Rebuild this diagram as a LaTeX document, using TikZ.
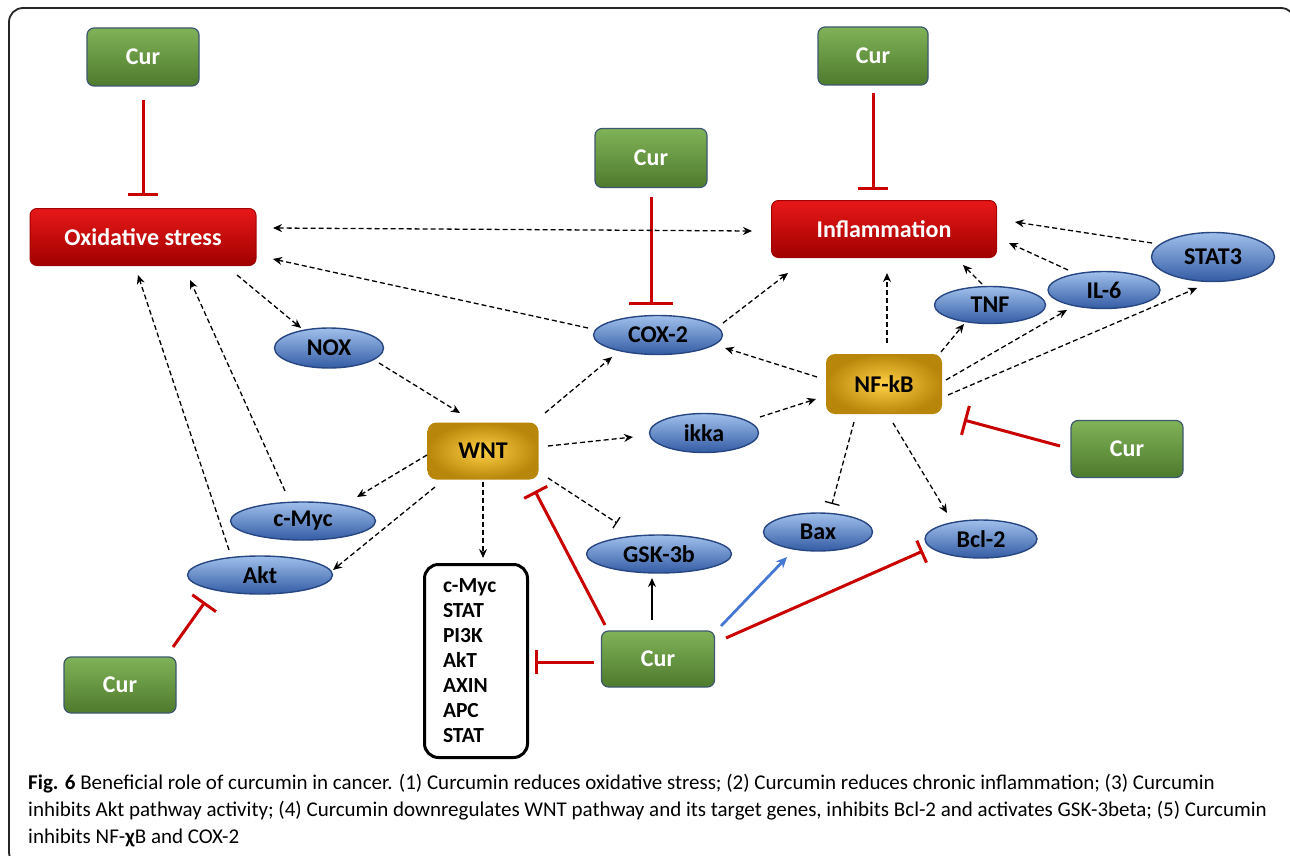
\documentclass[tikz,border=0pt]{standalone}
\usepackage{fontspec}
\setmainfont{Carlito}
\usetikzlibrary{arrows.meta,shapes.geometric}
\definecolor{curtop}{RGB}{128,178,88}
\definecolor{curbot}{RGB}{78,122,44}
\definecolor{curedge}{RGB}{62,88,112}
\definecolor{redtop}{RGB}{232,24,24}
\definecolor{redmid}{RGB}{206,0,0}
\definecolor{redbot}{RGB}{160,0,0}
\definecolor{goldin}{RGB}{255,208,70}
\definecolor{goldout}{RGB}{184,134,10}
\definecolor{bltop}{RGB}{160,192,235}
\definecolor{blmid}{RGB}{88,138,210}
\definecolor{blbot}{RGB}{52,92,165}
\definecolor{bledge}{RGB}{40,70,130}
\definecolor{inhred}{RGB}{200,0,0}
\definecolor{actblue}{RGB}{70,120,210}
\newcommand\nodefont{\fontsize{24}{28}\selectfont\bfseries}
\begin{document}
\begin{tikzpicture}[x=1pt,y=-1pt,
  curbox/.style={rectangle,rounded corners=7pt,draw=curedge,line width=1.2pt,
    top color=curtop,bottom color=curbot,text=white,font=\nodefont,
    minimum width=112pt,minimum height=58pt,inner sep=0pt},
  redbox/.style={rectangle,rounded corners=7pt,draw=redbot,line width=1pt,
    top color=redtop,middle color=redmid,bottom color=redbot,text=white,font=\nodefont,
    minimum height=57pt,inner sep=0pt},
  goldbox/.style={rectangle,rounded corners=9pt,inner color=goldin,outer color=goldout,
    text=black,font=\nodefont,minimum height=59pt,inner sep=0pt},
  blueell/.style={ellipse,draw=bledge,line width=1.4pt,top color=bltop,middle color=blmid,
    bottom color=blbot,text=black,font=\nodefont,inner sep=0pt},
  genebox/.style={rectangle,rounded corners=14pt,draw=black,line width=3pt,fill=white,
    minimum width=103pt,minimum height=193pt,inner sep=0pt,text width=66pt,align=left,
    font=\fontsize{21.5}{25}\selectfont\bfseries},
  da/.style={line width=1.3pt,dash pattern=on 5pt off 3pt,-{Stealth[length=9pt,width=8pt]}},
  dda/.style={line width=1.3pt,dash pattern=on 5pt off 3pt,{Stealth[length=9pt,width=8pt]}-{Stealth[length=9pt,width=8pt]}},
  inh/.style={draw=inhred,line width=3pt,-{Bar[width=#1]}},
  inh/.default=30pt,
  dinh/.style={line width=1.3pt,dash pattern=on 5pt off 3pt,-{Bar[width=#1]}},
  dinh/.default=13pt,
  frame/.style={draw=black!85,line width=1.8pt,rounded corners=14pt}
]
\useasboundingbox (0,0) rectangle (1290,856);
\begin{scope}
  \clip (0,0) rectangle (1290,856);
  \draw[frame] (9,8) rectangle (1295,866);
\end{scope}

% nodes
\node[curbox] (cur1) at (143,57) {Cur};
\node[redbox,minimum width=226pt] (ox) at (143,237) {Oxidative stress};
\node[curbox,minimum width=110pt] (cur2) at (873,56) {Cur};
\node[redbox,minimum width=225pt] (infl) at (884,229) {Inflammation};
\node[curbox,minimum height=59pt] (cur3) at (651,158) {Cur};
\node[blueell,minimum width=129pt,minimum height=39pt] (cox) at (658,335) {COX-2};
\node[goldbox,minimum width=116pt,minimum height=60pt] (nfkb) at (884,384) {NF-kB};
\node[blueell,minimum width=111pt,minimum height=37pt] (tnf) at (990,305) {TNF};
\node[blueell,minimum width=112pt,minimum height=37pt] (il6) at (1104,290) {IL-6};
\node[blueell,minimum width=123pt,minimum height=49pt] (stat3) at (1213,257) {STAT3};
\node[curbox,minimum height=57pt] (cur4) at (1127,449) {Cur};
\node[blueell,minimum width=109pt,minimum height=39pt] (ikka) at (704,433) {ikka};
\node[goldbox,minimum width=111pt,minimum height=57pt] (wnt) at (483,451) {WNT};
\node[blueell,minimum width=109pt,minimum height=40pt] (nox) at (329,348) {NOX};
\node[blueell,minimum width=145pt,minimum height=38pt] (cmyc) at (303,521) {c-Myc};
\node[blueell,minimum width=145pt,minimum height=38pt] (akt) at (260,575) {Akt};
\node[genebox] (genes) at (476,661) {c-Myc\\STAT\\PI3K\\AkT\\AXIN\\APC\\STAT};
\node[blueell,minimum width=145pt,minimum height=38pt] (gsk) at (659,554) {GSK-3b};
\node[curbox,minimum width=113pt,minimum height=56pt] (cur5) at (658,659) {Cur};
\node[blueell,minimum width=109pt,minimum height=38pt] (bax) at (818,532) {Bax};
\node[blueell,minimum width=112pt,minimum height=38pt] (bcl2) at (981,539) {Bcl-2};
\node[curbox,minimum height=56pt] (cur6) at (120,685) {Cur};

% inhibitions by curcumin
\draw[inh] ([shift={(0,43)}]cur1.center) -- ([shift={(0,-41)}]ox.center);
\draw[inh] ([shift={(0,37)}]cur2.center) -- ([shift={(-11,-39)}]infl.center);
\draw[inh=44pt] ([shift={(0,39)}]cur3.center) -- ([shift={(-7,-30)}]cox.center);
\draw[inh] ([shift={(-67,-3)}]cur4.center) -- ([shift={(80,36)}]nfkb.center);
\draw[inh=24pt] ([shift={(68,-21)}]cur5.center) -- ([shift={(-58,12)}]bcl2.center);
\draw[inh=26pt] ([shift={(-53,-34)}]cur5.center) -- ([shift={(52,40)}]wnt.center);
\draw[inh=24pt] ([shift={(-64,3)}]cur5.center) -- ([shift={(59,1)}]genes.center);
\draw[inh=29pt] ([shift={(53,-38)}]cur6.center) -- ([shift={(-55,27)}]akt.center);

% activations by curcumin
\draw[line width=1.3pt,-{Stealth[length=9pt,width=8pt]}] ([shift={(-6,-39)}]cur5.center) -- ([shift={(-7,24)}]gsk.center);
\draw[draw=actblue,line width=2.8pt,-{Stealth[length=11pt,width=10pt]}] ([shift={(63,-33)}]cur5.center) -- ([shift={(-31,25)}]bax.center);

% dashed network
\draw[dda] ([shift={(130,-9)}]ox.center) -- ([shift={(-132,2)}]infl.center);
\draw[da] ([shift={(-70,-7)}]cox.center) -- ([shift={(130,22)}]ox.center);
\draw[da] ([shift={(65,-12)}]cox.center) -- ([shift={(-96,44)}]infl.center);
\draw[da] ([shift={(-67,-7)}]nfkb.center) -- ([shift={(67,13)}]cox.center);
\draw[da] ([shift={(3,-41)}]nfkb.center) -- ([shift={(3,44)}]infl.center);
\draw[da] ([shift={(57,-32)}]nfkb.center) -- ([shift={(-26,19)}]tnf.center);
\draw[da] ([shift={(-8,-21)}]tnf.center) -- ([shift={(79,36)}]infl.center);
\draw[da] ([shift={(-36,-20)}]il6.center) -- ([shift={(125,14)}]infl.center);
\draw[da] ([shift={(-61,-14)}]stat3.center) -- ([shift={(131,-7)}]infl.center);
\draw[da] ([shift={(62,-4)}]nfkb.center) -- ([shift={(-37,20)}]il6.center);
\draw[da] ([shift={(64,11)}]nfkb.center) -- ([shift={(-16,31)}]stat3.center);
\draw[da] ([shift={(56,-16)}]ikka.center) -- ([shift={(-68,15)}]nfkb.center);
\draw[da] ([shift={(65,-5)}]wnt.center) -- ([shift={(-71,4)}]ikka.center);
\draw[da] ([shift={(62,-38)}]wnt.center) -- ([shift={(-46,22)}]cox.center);
\draw[da] ([shift={(94,38)}]ox.center) -- ([shift={(-28,-20)}]nox.center);
\draw[da] ([shift={(50,15)}]nox.center) -- ([shift={(-23,-38)}]wnt.center);
\draw[da] ([shift={(-56,4)}]wnt.center) -- ([shift={(54,-24)}]cmyc.center);
\draw[da] ([shift={(-18,-30)}]cmyc.center) -- ([shift={(47,43)}]ox.center);
\draw[da] ([shift={(-31,-25)}]akt.center) -- ([shift={(-5,38)}]ox.center);
\draw[da] ([shift={(-48,36)}]wnt.center) -- ([shift={(73,-5)}]akt.center);
\draw[da] ([shift={(0,31)}]wnt.center) -- ([shift={(7,-103)}]genes.center);
\draw[dinh] ([shift={(65,27)}]wnt.center) -- ([shift={(-42,-31)}]gsk.center);
\draw[dinh=15pt] ([shift={(-30,38)}]nfkb.center) -- ([shift={(14,-28)}]bax.center);
\draw[da] ([shift={(9,39)}]nfkb.center) -- ([shift={(-34,-26)}]bcl2.center);

% caption
\node[anchor=north west,align=left,inner sep=0pt,font=\fontsize{21}{27}\selectfont] (cap) at (28,774)
{\textbf{Fig. 6} Beneficial role of curcumin in cancer. (1) Curcumin reduces oxidative stress; (2) Curcumin reduces chronic inflammation; (3) Curcumin\\
inhibits Akt pathway activity; (4) Curcumin downregulates WNT pathway and its target genes, inhibits Bcl-2 and activates GSK-3beta; (5) Curcumin\\
inhibits NF-{\bfseries χ}B and COX-2};
\end{tikzpicture}
\end{document}
